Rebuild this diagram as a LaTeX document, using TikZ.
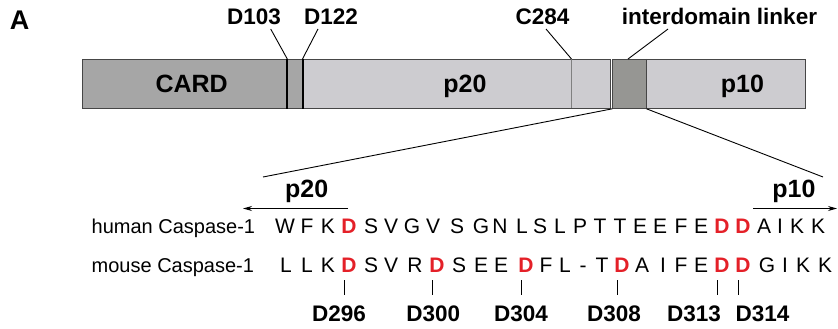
\documentclass[tikz,border=0pt]{standalone}
\usepackage{fontspec}
\setmainfont{Liberation Sans}
\usetikzlibrary{arrows.meta}
\definecolor{cardgray}{RGB}{166,166,166}
\definecolor{palegray}{RGB}{205,204,208}
\definecolor{linkgray}{RGB}{150,150,147}
\definecolor{seqred}{RGB}{228,32,40}
\definecolor{edgegray}{RGB}{70,70,70}
\newcommand\myfs[1]{\fontsize{#1}{#1}\selectfont}
\tikzset{
  seg/.style={draw=edgegray, line width=0.8pt, inner sep=0pt, minimum height=49pt, anchor=north west},
  barlabel/.style={inner sep=0pt, anchor=base, font=\myfs{25}\bfseries},
  toplabel/.style={inner sep=0pt, anchor=base, font=\myfs{22.5}\bfseries},
  sitelabel/.style={inner sep=0pt, anchor=base, font=\myfs{22.5}\bfseries},
  aa/.style={inner sep=0pt, anchor=base, font=\myfs{21}},
  redaa/.style={inner sep=0pt, anchor=base, font=\myfs{21}\bfseries, text=seqred},
  rowlabel/.style={inner sep=0pt, anchor=base west, font=\myfs{20}},
  pointer/.style={line width=0.9pt},
  tick/.style={line width=0.8pt},
  arr/.style={line width=1.1pt, -{Stealth[length=9pt,width=5pt]}}
}
\begin{document}
\begin{tikzpicture}[x=1pt,y=-1pt]
\useasboundingbox (0,0) rectangle (838,329);
% panel letter
\node[inner sep=0pt, anchor=base, font=\myfs{27}\bfseries] (A) at (19.5,30) {A};
% domain bar
\node[seg, fill=cardgray, minimum width=205.3pt] (card) at (82,59) {};
\node[seg, fill=cardgray, minimum width=14.4pt] (mid) at (287.3,59) {};
\node[seg, fill=palegray, minimum width=308.3pt] (p20box) at (301.7,59) {};
\node[seg, fill=linkgray, minimum width=33.4pt] (link) at (612.3,59) {};
\node[seg, fill=palegray, minimum width=159.3pt] (p10box) at (645.7,59) {};
\draw[line width=2pt] (mid.north west) -- (mid.south west);
\draw[line width=2pt] ([xshift=0.5pt]mid.north east) -- ([xshift=0.5pt]mid.south east);
\coordinate (c284top) at (571.5,59);
\coordinate (c284bot) at (571.5,108);
\draw[line width=1.6pt, draw=gray] (c284top) -- (c284bot);
\draw[line width=1.2pt, draw=edgegray] (link.north east) -- (link.south east);
% bar labels
\node[barlabel] (lcard) at (191.7,92.5) {CARD};
\node[barlabel] (lp20) at (465,92.5) {p20};
\node[barlabel] (lp10) at (742.5,92.5) {p10};
% top labels
\node[toplabel] (d103) at (254,25) {D103};
\node[toplabel] (d122) at (331,25) {D122};
\node[toplabel] (c284) at (542.5,25) {C284};
\node[toplabel] (ldl) at (719.5,25) {interdomain linker};
\draw[pointer] (270.7,29) -- (mid.north west);
\draw[pointer] (318,29) -- (mid.north east);
\draw[pointer] (546,29) -- (c284top);
\draw[pointer] (668,29) -- (628,59);
% zoom lines
\coordinate (zl) at (263,177);
\coordinate (zr) at (823,177);
\draw[pointer] (link.south west) -- (zl);
\draw[pointer] (link.south east) -- (zr);
% p20 / p10 arrows
\node[barlabel] (bp20) at (306.7,197) {p20};
\node[barlabel] (bp10) at (794,197) {p10};
\coordinate (a20s) at (348,208.5);
\coordinate (a20e) at (243,208.5);
\coordinate (a10s) at (753,208.5);
\coordinate (a10e) at (837,208.5);
\draw[arr] (a20s) -- (a20e);
\draw[arr] (a10s) -- (a10e);
% row labels
\node[rowlabel] (hum) at (91.5,233.7) {human Caspase-1};
\node[rowlabel] (mou) at (91.5,272) {mouse Caspase-1};
% human sequence
\foreach \x/\c/\s [count=\i] in {285/W/aa,307/F/aa,328/K/aa,349/D/redaa,371/S/aa,391/V/aa,412/G/aa,433/V/aa,457/S/aa,481/G/aa,500/N/aa,522/L/aa,540/S/aa,560/L/aa,580/P/aa,600/T/aa,620/T/aa,640/E/aa,660/E/aa,681/F/aa,701/E/aa,722/D/redaa,743/D/redaa,764/A/aa,780/I/aa,797/K/aa,818/K/aa}
  \node[\s] (h\i) at (\x,233.7) {\c};
% mouse sequence
\foreach \x/\c/\s [count=\i] in {286/L/aa,307/L/aa,328/K/aa,349/D/redaa,371/S/aa,391/V/aa,415/R/aa,437/D/redaa,459/S/aa,481/E/aa,501/E/aa,526/D/redaa,546/F/aa,565/L/aa,583/-/aa,602/T/aa,622/D/redaa,642/A/aa,663/I/aa,681/F/aa,701/E/aa,722/D/redaa,743/D/redaa,767/G/aa,785/I/aa,803/K/aa,825/K/aa}
  \node[\s] (m\i) at (\x,272) {\c};
% cleavage site labels
\node[sitelabel] (s296) at (339,321) {D296};
\node[sitelabel] (s300) at (433.3,321) {D300};
\node[sitelabel] (s304) at (521,321) {D304};
\node[sitelabel] (s308) at (614,321) {D308};
\node[sitelabel] (s313) at (694,321) {D313};
\node[sitelabel] (s314) at (762.5,321) {D314};
\foreach \n in {4,8,12,17,22,23}
  \draw[tick] ([shift={(-5,8)}]m\n.base) -- ++(0,15);
\end{tikzpicture}
\end{document}
